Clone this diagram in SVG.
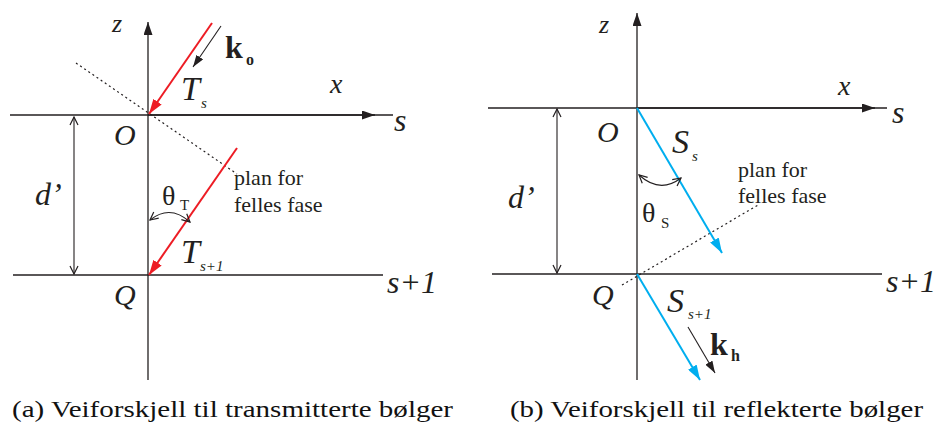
<svg xmlns="http://www.w3.org/2000/svg" width="940" height="426" viewBox="0 0 940 426">
<style>
.ln{stroke:#231f20;stroke-width:1.3;fill:none}
.ax{stroke:#231f20;stroke-width:1.3;fill:none}
.dot{stroke:#231f20;stroke-width:1.2;stroke-dasharray:2 3;fill:none}
.red{stroke:#ed1c24;stroke-width:2;fill:none}
.blue{stroke:#00aeef;stroke-width:2;fill:none}
.thin{stroke:#231f20;stroke-width:1.1;fill:none}
text{font-family:'Liberation Serif','Times New Roman',Times,serif;fill:#231f20}
.it{font-style:italic}
.bd{font-weight:bold}
.cap{fill:#111;font-size:23px}
</style>
<defs>
<marker id="hBlack" viewBox="0 0 13 9" refX="13" refY="4.5" markerWidth="13" markerHeight="9" markerUnits="userSpaceOnUse" orient="auto"><path d="M0,0 L13,4.5 L0,9 z" fill="#231f20"/></marker>
<marker id="hSmall" viewBox="0 0 12 8" refX="12" refY="4" markerWidth="12" markerHeight="8" markerUnits="userSpaceOnUse" orient="auto"><path d="M0,0 L12,4 L0,8 z" fill="#231f20"/></marker>
<marker id="hRed" viewBox="0 0 15 10" refX="15" refY="5" markerWidth="15" markerHeight="10" markerUnits="userSpaceOnUse" orient="auto"><path d="M0,0 L15,5 L0,10 z" fill="#ed1c24"/></marker>
<marker id="hBlue" viewBox="0 0 15 10" refX="15" refY="5" markerWidth="15" markerHeight="10" markerUnits="userSpaceOnUse" orient="auto"><path d="M0,0 L15,5 L0,10 z" fill="#00aeef"/></marker>
<marker id="hOpen" viewBox="0 0 10 10" refX="9" refY="5" markerWidth="10" markerHeight="10" markerUnits="userSpaceOnUse" orient="auto-start-reverse"><path d="M1,1 L9,5 L1,9" fill="none" stroke="#231f20" stroke-width="1.2"/></marker>
</defs>

<g id="connectors">
<line class="ln" x1="10" y1="115" x2="393" y2="115"/>
<line class="ax" x1="148" y1="115" x2="375" y2="115" stroke-width="1.8" marker-end="url(#hBlack)"/>
<line class="ln" x1="13" y1="275" x2="383" y2="275"/>
<line class="ax" x1="148" y1="380" x2="148" y2="22" marker-end="url(#hBlack)"/>
<line class="thin" x1="74" y1="117" x2="74" y2="274" marker-start="url(#hOpen)" marker-end="url(#hOpen)"/>
<line class="dot" x1="76" y1="63" x2="237" y2="174"/>
<line class="red" x1="212" y1="23" x2="149" y2="114" marker-end="url(#hRed)"/>
<line class="red" x1="237" y1="148" x2="149" y2="275" marker-end="url(#hRed)"/>
<line class="thin" x1="221" y1="26" x2="193" y2="67" marker-end="url(#hSmall)"/>
<path class="thin" d="M150,220 Q170,204 190,222" marker-start="url(#hOpen)" marker-end="url(#hOpen)"/>
<line class="ln" x1="488" y1="108" x2="887" y2="108"/>
<line class="ax" x1="637" y1="108" x2="875" y2="108" marker-end="url(#hBlack)"/>
<line class="ln" x1="492" y1="274" x2="882" y2="274"/>
<line class="ax" x1="637" y1="380" x2="637" y2="13" marker-end="url(#hBlack)"/>
<line class="thin" x1="557" y1="109" x2="557" y2="273" marker-start="url(#hOpen)" marker-end="url(#hOpen)"/>
<line class="dot" x1="622" y1="285" x2="758" y2="205"/>
<line class="blue" x1="637" y1="108" x2="722" y2="253" marker-end="url(#hBlue)"/>
<line class="blue" x1="637" y1="274" x2="700" y2="380" marker-end="url(#hBlue)"/>
<line class="thin" x1="688" y1="327" x2="715" y2="373" marker-end="url(#hSmall)"/>
<path class="thin" d="M639,175 Q660,194 681,178" marker-start="url(#hOpen)" marker-end="url(#hOpen)"/>
</g>

<g id="panel-a-labels">
<g id="a-z"><text class="it" x="112" y="32" font-size="26">z</text></g>
<g id="a-x"><text class="it" x="330" y="93" font-size="28">x</text></g>
<g id="a-s"><text class="it" x="394" y="131" font-size="32">s</text></g>
<g id="a-O"><text class="it" x="114" y="145" font-size="30">O</text></g>
<g id="a-d"><text class="it" x="35" y="205" font-size="32">d’</text></g>
<g id="a-Q"><text class="it" x="114" y="305" font-size="30">Q</text></g>
<g id="a-s1"><text class="it" x="387" y="293" font-size="32">s+1</text></g>
<g id="a-Ts"><text class="it" x="181" y="100" font-size="34">T</text><text class="it" x="201" y="108" font-size="15">s</text></g>
<g id="a-theta"><text x="162" y="205" font-size="28">θ</text><text x="180" y="210" font-size="15">T</text></g>
<g id="a-Ts1"><text class="it" x="181" y="263" font-size="34">T</text><text class="it" x="200" y="271" font-size="15">s+1</text></g>
<g id="a-ko"><text class="bd" x="225" y="58" font-size="32">k</text><text class="bd" x="246" y="65" font-size="16">o</text></g>
<g id="a-plan"><text x="234" y="185" font-size="22">plan for</text><text x="234" y="212" font-size="22">felles fase</text></g>
</g>

<g id="panel-b-labels">
<g id="b-z"><text class="it" x="599" y="33" font-size="26">z</text></g>
<g id="b-x"><text class="it" x="838" y="95" font-size="28">x</text></g>
<g id="b-s"><text class="it" x="892" y="123" font-size="32">s</text></g>
<g id="b-O"><text class="it" x="597" y="142" font-size="30">O</text></g>
<g id="b-d"><text class="it" x="508" y="208" font-size="32">d’</text></g>
<g id="b-Q"><text class="it" x="592" y="305" font-size="30">Q</text></g>
<g id="b-s1"><text class="it" x="886" y="292" font-size="32">s+1</text></g>
<g id="b-Ss"><text class="it" x="672" y="153" font-size="34">S</text><text class="it" x="692" y="161" font-size="15">s</text></g>
<g id="b-theta"><text x="642" y="222" font-size="28">θ</text><text x="661" y="228" font-size="15">S</text></g>
<g id="b-Ss1"><text class="it" x="667" y="312" font-size="34">S</text><text class="it" x="688" y="319" font-size="15">s+1</text></g>
<g id="b-kh"><text class="bd" x="710" y="355" font-size="32">k</text><text class="bd" x="731" y="361" font-size="16">h</text></g>
<g id="b-plan"><text x="738" y="177" font-size="22">plan for</text><text x="738" y="203" font-size="22">felles fase</text></g>
</g>

<g id="captions">
<text class="cap" x="12" y="417" textLength="441" lengthAdjust="spacingAndGlyphs">(a)  Veiforskjell til transmitterte bølger</text>
<text class="cap" x="510" y="417" textLength="413" lengthAdjust="spacingAndGlyphs">(b)  Veiforskjell til reflekterte bølger</text>
</g>
</svg>
